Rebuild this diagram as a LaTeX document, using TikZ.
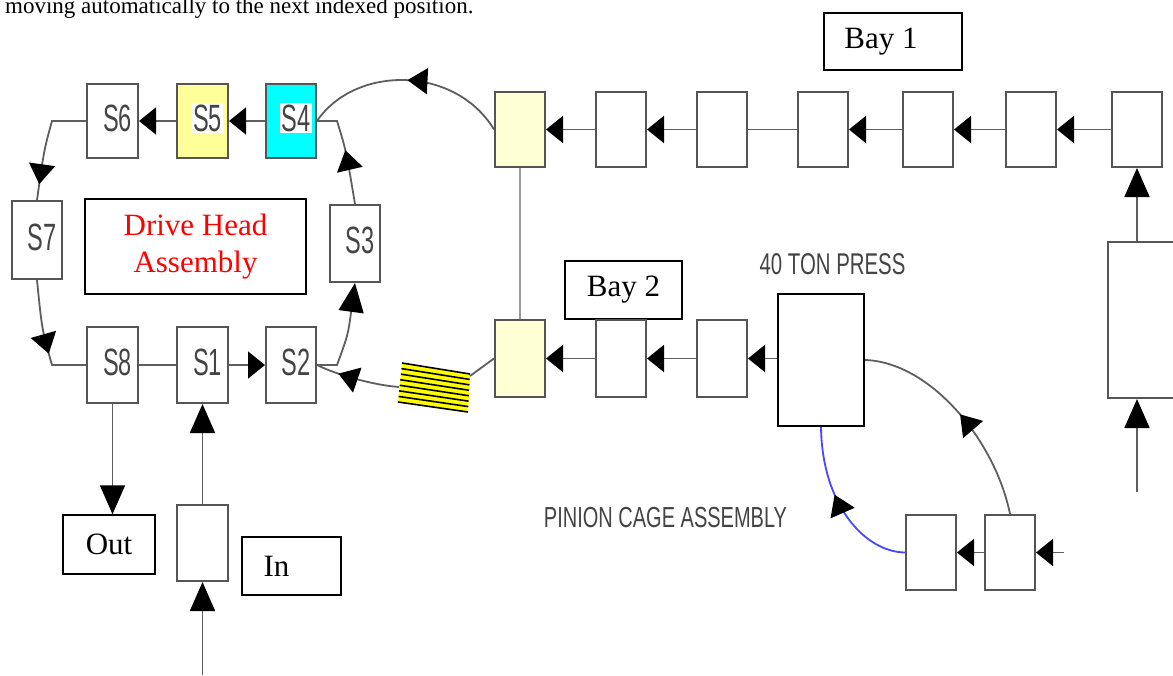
\documentclass[tikz,border=0pt]{standalone}
\usepackage{fontspec}
\usepackage{graphicx}
\setmainfont{Liberation Serif}
\newfontfamily\cadfont{Liberation Sans}
\usetikzlibrary{arrows.meta,decorations.markings,calc}
\definecolor{boxgray}{HTML}{555555}
\definecolor{linegray}{HTML}{5E5E5E}
\definecolor{vgray}{HTML}{9A9A9A}
\definecolor{paleyel}{HTML}{FFFFD6}
\definecolor{sfiveyel}{HTML}{FFFF99}
\definecolor{sfourcyan}{HTML}{00FFFF}
\definecolor{hatchyel}{HTML}{FFFF00}
\definecolor{cadtext}{HTML}{444444}
\definecolor{bluecurve}{HTML}{4848FF}
\newcommand\cadtxt[3]{{\cadfont\fontsize{#1}{#1}\selectfont\scalebox{#2}[1]{#3}}}
\newcommand\slab[1]{\cadtxt{38}{0.62}{#1}}
\tikzset{
  gbox/.style={draw=boxgray, line width=2pt, fill=white, inner sep=0pt,
    minimum width=50pt, minimum height=75pt},
  tbox/.style={draw=black, line width=1.5pt, fill=white, inner sep=0pt,
    font=\fontsize{31}{37}\selectfont},
  slabel/.style={inner sep=0pt, text=cadtext, xshift=5pt, yshift=3pt},
  slabelbg/.style={slabel, fill=white, inner sep=1.5pt},
  cadlab/.style={inner sep=0pt, text=cadtext},
  conn/.style={draw=linegray, line width=1.8pt},
  vline/.style={draw=vgray, line width=2pt},
  harr/.style={-{Triangle[length=17pt,width=27pt,black]}},
  varr/.style={-{Triangle[length=29pt,width=25pt,black]}},
  midarr/.style={postaction={decorate}, decoration={markings,
    mark=at position #1 with {\arrow{Triangle[length=20pt,width=26pt,black]}}}},
}
\begin{document}
\begin{tikzpicture}[x=1pt,y=-1pt]
\useasboundingbox (0,0) rectangle (1173,675);
\fill[white] (0,0) rectangle (1173,675);

% caption fragment
\node[anchor=base west, inner sep=0pt, font=\fontsize{23}{23}\selectfont] (caption) at (5,13.5)
  {moving automatically to the next indexed position.};

% drive head stations
\node[gbox, minimum width=51pt, minimum height=74pt, label={[slabel]center:\slab{S6}}] (S6) at (112.5,121) {};
\node[gbox, fill=sfiveyel, minimum width=51pt, minimum height=74pt, label={[slabelbg]center:\slab{S5}}] (S5) at (202.5,121) {};
\node[gbox, fill=sfourcyan, minimum width=50pt, minimum height=74pt, label={[slabelbg]center:\slab{S4}}] (S4) at (291,121) {};
\node[gbox, minimum width=50pt, minimum height=78pt, label={[slabel]center:\slab{S7}}] (S7) at (37,240) {};
\node[gbox, minimum width=50pt, minimum height=77pt, label={[slabel]center:\slab{S3}}] (S3) at (355,243.5) {};
\node[gbox, minimum width=51pt, minimum height=76pt, label={[slabel]center:\slab{S8}}] (S8) at (112.5,365) {};
\node[gbox, minimum width=51pt, minimum height=76pt, label={[slabel]center:\slab{S1}}] (S1) at (202.5,365) {};
\node[gbox, minimum width=50pt, minimum height=76pt, label={[slabel]center:\slab{S2}}] (S2) at (291,365) {};
\node[gbox, minimum width=51pt, minimum height=76pt] (inbox) at (202.5,543) {};

\node[tbox, minimum width=221pt, minimum height=95pt, align=center, text=red] (dha) at (195.5,246.5) {Drive Head\\Assembly};
\node[tbox, minimum width=92pt, minimum height=59pt] (Out) at (109,544.5) {Out};
\node[tbox, minimum width=99pt, minimum height=58pt] (In) at (291.5,566) {In\hspace*{30pt}};
\node[tbox, minimum width=138pt, minimum height=57pt] (bay1) at (893,41.5) {Bay 1\hspace*{24pt}};
\node[tbox, minimum width=117pt, minimum height=58pt] (bay2) at (623.5,290) {Bay 2};

% top row (Bay 1)
\node[gbox, fill=paleyel] (ty) at (520,129.5) {};
\node[gbox] (t2) at (621,129.5) {};
\node[gbox] (t3) at (722,129.5) {};
\node[gbox] (t4) at (823,129.5) {};
\node[gbox] (t5) at (928,129.5) {};
\node[gbox] (t6) at (1031,129.5) {};
\node[gbox] (t7) at (1137,129.5) {};
\node[gbox, minimum width=100pt, minimum height=156pt] (tall) at (1158,320) {};

% bottom row (Bay 2)
\node[gbox, fill=paleyel, minimum height=77pt] (yb) at (520,358.5) {};
\node[gbox, minimum height=77pt] (b2) at (621,358.5) {};
\node[gbox, minimum height=77pt] (b3) at (722,358.5) {};
\node[draw=black, line width=2pt, fill=white, inner sep=0pt, minimum width=86pt, minimum height=132pt] (press) at (821,360) {};
\node[cadlab] (presslab) at (832.5,264) {\cadtxt{30}{0.68}{40 TON PRESS}};

% pinion cage
\node[gbox] (pin1) at (931,552.5) {};
\node[gbox] (pin2) at (1010,552.5) {};
\node[cadlab] (pinlab) at (665.5,517.5) {\cadtxt{29}{0.69}{PINION CAGE ASSEMBLY}};

% hatched block
\coordinate (hTL) at (402,363);
\coordinate (hTR) at (470,374);
\coordinate (hBR) at (468,412);
\coordinate (hBL) at (398,402);
\fill[hatchyel] (hTL) -- (hTR) -- (hBR) -- (hBL) -- cycle;
\foreach \i in {0,...,7}{
  \draw[black, line width=1.6pt] ($(hTL)!{\i/7}!(hBL)$) -- ($(hTR)!{\i/7}!(hBR)$);
}
\coordinate (hatchL) at (399,387);
\coordinate (hatchR) at (470,376);

% free ends
\coordinate (inbot) at (202.5,675);
\coordinate (tallbot) at (1137,492);
\coordinate (pinin) at (1064,552.5);
\coordinate (s4j) at (337,121);
\coordinate (s6j) at (52,121);
\coordinate (s8j) at (52,365);
\coordinate (s2j) at (337,365);

% connectors: drive head loop
\draw[conn, harr] (S4.west) -- (S5.east);
\draw[conn, harr] (S5.west) -- (S6.east);
\draw[conn, midarr=0.86] (S6.west) -- (s6j) .. controls (44,150) .. (S7.north);
\draw[conn, midarr=0.62] (S7.south) .. controls (42,330) .. (s8j) -- (S8.west);
\draw[conn] (S8.east) -- (S1.west);
\draw[conn, harr] (S1.east) -- (S2.west);
\draw[conn, varr] (S2.east) -- (s2j) .. controls (348,335) .. (S3.south);
\draw[conn, midarr=0.52] (S3.north) .. controls (346,150) .. (s4j) -- (S4.east);
\draw[conn, varr] (S8.south) -- (S8.south |- Out.north);
\draw[conn, varr] (inbox.north) -- (S1.south);
\draw[conn, varr] (inbot) -- (inbox.south);

% return from bay 1
\draw[conn, midarr=0.5] (ty.west) .. controls (455,65) and (355,65) .. (S4.east);

% hatched block links
\draw[conn, midarr=0.73] (hatchL) .. controls (372,385) and (335,374) .. (S2.east);
\draw[conn] (hatchR) -- (yb.west);

% bay 1 row
\draw[vline] (ty.south) -- (yb.north);
\draw[conn, harr] (t2.west) -- (ty.east);
\draw[conn, harr] (t3.west) -- (t2.east);
\draw[conn] (t4.west) -- (t3.east);
\draw[conn, harr] (t5.west) -- (t4.east);
\draw[conn, harr] (t6.west) -- (t5.east);
\draw[conn, harr] (t7.west) -- (t6.east);
\draw[conn, varr] (t7.south |- tall.north) -- (t7.south);
\draw[conn, varr] (tallbot) -- (tallbot |- tall.south);

% bay 2 row
\draw[conn, harr] (b2.west) -- (yb.east);
\draw[conn, harr] (b3.west) -- (b2.east);
\draw[conn, harr] (b3.east -| press.west) -- (b3.east);

% pinion cage
\draw[conn, harr] (pinin) -- (pin2.east);
\draw[conn, harr] (pin2.west) -- (pin1.east);
\draw[conn, midarr=0.5] (pin2.north) .. controls (995,440) and (930,362) .. (press.east);
\draw[draw=bluecurve, line width=1.8pt, midarr=0.58] (pin1.west) .. controls (865,552) and (822,505) .. (press.south);
\end{tikzpicture}
\end{document}
